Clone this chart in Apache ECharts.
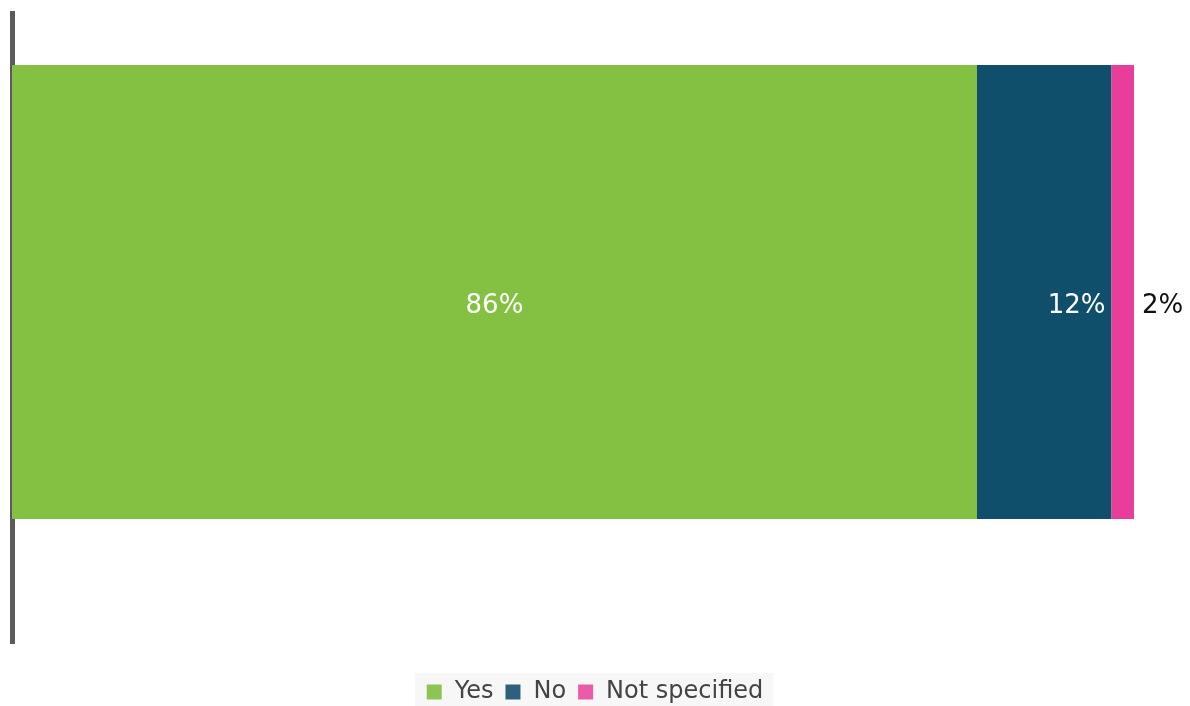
<!DOCTYPE html>
<html>
<head>
<meta charset="utf-8">
<script src="https://cdn.jsdelivr.net/npm/echarts@6/dist/echarts.min.js"></script>
<style>
  html, body { margin: 0; padding: 0; background: #ffffff; }
  #chart { width: 1190px; height: 706px; }
</style>
</head>
<body>
<div id="chart"></div>
<script>
// Single stacked bar: share of responses
const categories = ['Responses'];
const seriesNames = ['Yes', 'No', 'Not specified'];
const yesValues = [86];
const noValues = [12];
const notSpecifiedValues = [2];

const colors = ['#84c142', '#0f4f6b', '#e83e99'];
const legendColors = ['#8dc453', '#2e5f7c', '#ea5ba8'];
const FONT = '"DejaVu Sans", Verdana, sans-serif';

const chart = echarts.init(document.getElementById('chart'));

const valueSets = [yesValues, noValues, notSpecifiedValues];
const labelSpecs = [
  { position: 'inside', color: '#ffffff', distance: 5 },
  { position: 'insideRight', color: '#ffffff', distance: 6 },
  { position: 'right', color: '#111111', distance: 8 }
];

chart.setOption({
  animation: false,
  grid: [
    // frame grid carrying the vertical baseline
    { left: 12, right: 56, top: 11, bottom: 62 },
    // grid holding the bar itself
    { left: 12, right: 56, top: 65, bottom: 187 }
  ],
  xAxis: [
    { type: 'value', gridIndex: 0, min: 0, max: 100, show: false },
    { type: 'value', gridIndex: 1, min: 0, max: 100, show: false }
  ],
  yAxis: [
    {
      type: 'category',
      gridIndex: 0,
      data: categories,
      axisLine: { show: true, lineStyle: { color: '#5b5b5b', width: 5, cap: 'butt' } },
      axisTick: { show: false },
      axisLabel: { show: false },
      splitLine: { show: false }
    },
    {
      type: 'category',
      gridIndex: 1,
      data: categories,
      axisLine: { show: false },
      axisTick: { show: false },
      axisLabel: { show: false },
      splitLine: { show: false }
    }
  ],
  legend: {
    bottom: 0,
    left: 'center',
    icon: 'rect',
    itemWidth: 15,
    itemHeight: 15,
    itemGap: 12,
    backgroundColor: '#f7f7f7',
    padding: [7, 10, 2, 12],
    textStyle: { fontFamily: FONT, fontSize: 24, color: '#444444', padding: [0, 0, 0, 8] },
    data: seriesNames.map((n, i) => ({ name: n, itemStyle: { color: legendColors[i] } }))
  },
  series: seriesNames.map((name, i) => ({
    name: name,
    type: 'bar',
    stack: 'total',
    xAxisIndex: 1,
    yAxisIndex: 1,
    barWidth: '100%',
    data: valueSets[i],
    itemStyle: { color: colors[i] },
    label: {
      show: true,
      position: labelSpecs[i].position,
      distance: labelSpecs[i].distance,
      offset: [0, 14],
      color: labelSpecs[i].color,
      fontFamily: FONT,
      fontSize: 26,
      formatter: p => p.value + '%'
    }
  }))
});
</script>
</body>
</html>
